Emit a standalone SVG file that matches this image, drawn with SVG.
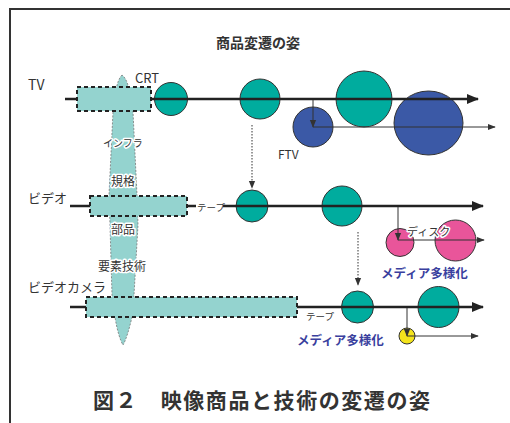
<svg xmlns="http://www.w3.org/2000/svg" width="510" height="423" viewBox="0 0 510 423">
<defs>
<style>
.t{font-family:"Noto Sans CJK JP","Liberation Sans",sans-serif;fill:#333}
.halo{paint-order:stroke;stroke:#fff;stroke-width:3px;stroke-linejoin:round}
.blue{font-family:"Noto Sans CJK JP",sans-serif;fill:#3a3f9e;font-weight:bold;font-size:12.5px}
.main{stroke:#222;stroke-width:2.5;fill:none}
.sub{stroke:#333;stroke-width:1;fill:none}
.teal{fill:#00ac9e;stroke:#333;stroke-width:1}
.navy{fill:#3b59a6;stroke:#333;stroke-width:1}
.pink{fill:#e9559a;stroke:#333;stroke-width:1}
.box{fill:#94d3cf;stroke:#222;stroke-width:2;stroke-dasharray:4 3}
</style>
<marker id="ah" viewBox="0 0 10 10" refX="9" refY="5" markerWidth="5" markerHeight="5" orient="auto" markerUnits="strokeWidth"><path d="M0,1 L10,5 L0,9 Z" fill="#222"/></marker>
<marker id="as" viewBox="0 0 10 10" refX="9" refY="5" markerWidth="8" markerHeight="8" orient="auto" markerUnits="strokeWidth"><path d="M0,1 L10,5 L0,9 Z" fill="#333"/></marker>
</defs>
<rect width="510" height="423" fill="#fff"/>
<path d="M10,423 L10,9 L510,9" fill="none" stroke="#333" stroke-width="2"/>
<text class="t" x="216" y="48" font-size="14" font-weight="bold">商品変遷の姿</text>

<g id="spindle"><path d="M122,75 C119,78 117,84 116,90 L113,112 L109,195 L110,225 L112,295 L115,317 C117,330 120,340 123,345 C126,340 129,330 132,317 L134,295 L138,225 L137,195 L133,112 L129,90 C128,84 126,78 122,75 Z" fill="#94d3cf" stroke="#777" stroke-width="0.8" stroke-dasharray="2 1.5"/></g>

<g id="circles">
<circle id="crt" class="teal" cx="171" cy="99" r="16.5"/>
<circle class="teal" cx="260" cy="99" r="20"/>
<circle class="teal" cx="364" cy="99" r="28"/>
<circle id="ftv" class="navy" cx="313" cy="127" r="20"/>
<ellipse class="navy" cx="428.5" cy="123" rx="34.5" ry="32"/>
<circle class="teal" cx="252" cy="206" r="16"/>
<circle class="teal" cx="342" cy="206" r="20"/>
<circle class="pink" cx="400" cy="242.5" r="14"/>
<circle class="pink" cx="455.5" cy="240.5" r="20.5"/>
<circle class="teal" cx="357.5" cy="307" r="16"/>
<circle class="teal" cx="438.5" cy="307" r="20.5"/>
<circle class="teal" cx="407" cy="336" r="8" style="fill:#f4e41c"/>
</g>

<g id="connectors">
<line class="main" x1="65" y1="99" x2="478" y2="99" marker-end="url(#ah)"/>
<line class="main" x1="70" y1="206" x2="483" y2="206" marker-end="url(#ah)"/>
<line class="main" x1="70" y1="307" x2="483" y2="307" marker-end="url(#ah)"/>
<line class="sub" x1="313" y1="100" x2="313" y2="127" marker-end="url(#as)"/>
<line class="sub" x1="313" y1="127" x2="495" y2="127" marker-end="url(#as)"/>
<line class="sub" x1="398" y1="207" x2="398" y2="240" marker-end="url(#as)"/>
<line class="sub" x1="398" y1="240" x2="484" y2="240" marker-end="url(#as)"/>
<line class="sub" x1="407" y1="308" x2="407" y2="336" marker-end="url(#as)"/>
<line class="sub" x1="407" y1="336" x2="478" y2="336" marker-end="url(#as)"/>
<line class="sub" x1="252" y1="125" x2="252" y2="188" stroke-dasharray="1.5 1.5" marker-end="url(#as)"/>
<line class="sub" x1="358" y1="232" x2="358" y2="285" stroke-dasharray="1.5 1.5" marker-end="url(#as)"/>
</g>

<g id="tv-box"><rect class="box" x="77" y="87" width="74" height="24"/></g>
<g id="video-box"><rect class="box" x="90" y="196" width="97" height="20"/></g>
<g id="camera-box"><rect class="box" x="86" y="297" width="211" height="20"/></g>

<g id="labels">
<text class="t" x="28" y="90" font-size="14">TV</text>
<text class="t" x="135" y="83" font-size="13">CRT</text>
<text class="t" x="278" y="159" font-size="12">FTV</text>
<text class="t" x="28" y="203" font-size="13">ビデオ</text>
<text class="t" x="28" y="292" font-size="13">ビデオカメラ</text>
<rect x="196" y="200" width="27" height="12" fill="#fff"/>
<text class="t" x="197" y="211" font-size="9.5">テープ</text>
<text class="t" x="306" y="320" font-size="9.5">テープ</text>
<text class="t halo" x="407" y="236" font-size="11">ディスク</text>
<text class="blue" x="381" y="278">メディア多様化</text>
<text class="blue" x="297" y="345">メディア多様化</text>
<text class="t halo" x="103" y="147" font-size="10">インフラ</text>
<text class="t halo" x="111" y="186" font-size="12">規格</text>
<text class="t halo" x="111" y="234" font-size="12">部品</text>
<text class="t halo" x="98" y="271" font-size="12">要素技術</text>
<text class="t" x="93" y="408" font-size="21" font-weight="bold" textLength="337" lengthAdjust="spacing">図２　映像商品と技術の変遷の姿</text>
</g>
</svg>
